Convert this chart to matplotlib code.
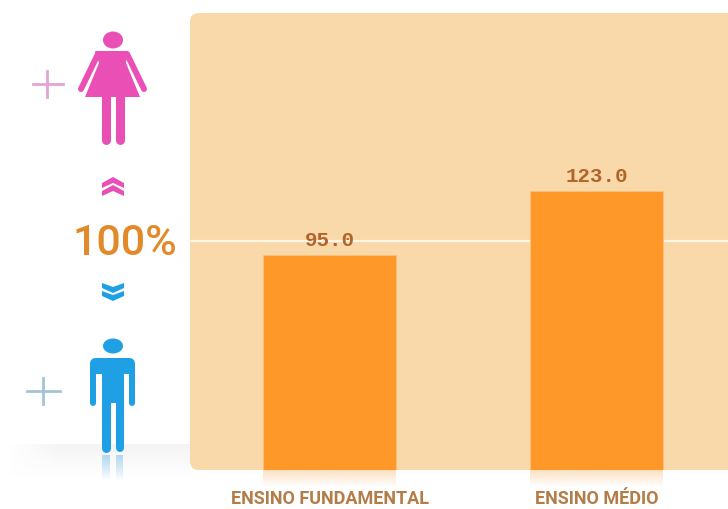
import numpy as np
import matplotlib
matplotlib.use("Agg")
import matplotlib.pyplot as plt
from matplotlib.colors import LinearSegmentedColormap
from matplotlib.patches import Ellipse, FancyBboxPatch, Polygon

# ------------------------------------------------------------
# Data
# ------------------------------------------------------------
categories = ["ENSINO FUNDAMENTAL", "ENSINO MÉDIO"]
values = [95.0, 123.0]
value_labels = ["95.0", "123.0"]
reference_line = 101.2  # where the white line sits
reference_label = "100%"

PANEL = "#f9d8a9"
BAR = "#fd9829"
PINK = "#e94fb4"
BLUE = "#1f9fe4"
W, H = 728, 510

fig = plt.figure(figsize=(W / 100, H / 100), dpi=100, facecolor="white")

# pixel layer for panel and pictograms
bg = fig.add_axes([0, 0, 1, 1], zorder=0)
bg.axis("off")


def fade(axis, color, extent, start=1.0, horizontal=False):
    cmap = LinearSegmentedColormap.from_list("f", [color, color])
    grad = np.linspace(start, 0, 64)
    grad = grad[None, :] if horizontal else grad[:, None]
    rgba = cmap(np.zeros_like(grad))
    rgba[..., 3] = grad
    axis.imshow(rgba, extent=extent, aspect="auto", interpolation="bilinear", zorder=1, clip_on=False)


def limb(x0, y0, x1, y1, width, color):
    bg.plot([x0, x1], [y0, y1], color=color, lw=width * 0.72, solid_capstyle="round", zorder=3)


# grey floor band on the left
fade(bg, "#eeeeee", (10, 190, 478, 445), start=0.65)
fade(bg, "#ffffff", (10, 60, 445, 478), start=1.0, horizontal=True)

bg.add_patch(FancyBboxPatch((198, 22), 550, 441, boxstyle="round,pad=8,rounding_size=9",
                            fc=PANEL, ec="none", zorder=2))

# woman
bg.add_patch(Ellipse((113, 41), 20, 17, fc=PINK, ec="none", zorder=3))
bg.add_patch(Polygon([(95, 52), (128, 52), (126, 64), (140, 98), (85, 98), (99, 64)],
                     fc=PINK, ec="none", zorder=3))
limb(98, 55, 81, 90, 6, PINK)
limb(127, 55, 144, 90, 6, PINK)
limb(106, 97, 106, 141, 9, PINK)
limb(119.5, 97, 119.5, 141, 9, PINK)

# man
bg.add_patch(Ellipse((113, 347), 20, 15, fc=BLUE, ec="none", zorder=3))
bg.add_patch(FancyBboxPatch((90, 359), 45, 16, boxstyle="round,pad=0,rounding_size=6",
                            fc=BLUE, ec="none", zorder=3))
limb(93, 368, 93, 404, 6, BLUE)
limb(132, 368, 132, 404, 6, BLUE)
bg.add_patch(Polygon([(102, 366), (124, 366), (124, 404), (102, 404)], fc=BLUE, ec="none", zorder=3))
limb(106, 400, 106, 449, 9, BLUE)
limb(119.5, 400, 119.5, 449, 8, BLUE)
fade(bg, "#a9d6f0", (102, 110, 482, 456), start=0.9)
fade(bg, "#a9d6f0", (116, 123, 482, 456), start=0.9)

# chevrons
for dy in (0, 8):
    bg.add_patch(Polygon([(102, 184 + dy), (113, 178 + dy), (124, 184 + dy), (124, 189 + dy),
                          (113, 184 + dy), (102, 189 + dy)], fc=PINK, ec="none", zorder=3))
    bg.add_patch(Polygon([(102, 284 + dy), (113, 288 + dy), (124, 284 + dy), (124, 289 + dy),
                          (113, 294 + dy), (102, 289 + dy)], fc=BLUE, ec="none", zorder=3))

# plus signs
bg.plot([33, 63], [85, 85], color="#e2a5cf", lw=2, zorder=3)
bg.plot([47, 47], [72, 98], color="#e2a5cf", lw=2, zorder=3)
bg.plot([27, 60], [392, 392], color="#a3c3d8", lw=2, zorder=3)
bg.plot([43, 43], [379, 405], color="#a3c3d8", lw=2, zorder=3)

bg.text(124.5, 244, reference_label, color="#e28a2b", fontsize=31, family="Roboto", fontweight=500,
        ha="center", va="center", zorder=3)
bg.set_xlim(0, W)
bg.set_ylim(H, 0)

# chart layer: plot area matches the panel
ax = fig.add_axes([190 / W, 1 - 470.5 / H, 538 / W, 456.5 / H], zorder=1)
ax.patch.set_alpha(0)
x = np.arange(len(categories))
bars = ax.bar(x, values, width=0.498, color=BAR, edgecolor="#fbc27c", linewidth=0.6, zorder=3)
ax.axhline(reference_line, color="#fff6e8", lw=1.6, zorder=2)

for xi, val, txt in zip(x, values, value_labels):
    ax.annotate(txt, (xi, val), xytext=(0, 7), textcoords="offset points", ha="center", va="baseline",
                color="#b2642a", fontsize=15, family=["Liberation Mono", "DejaVu Sans Mono"],
                fontweight="bold", zorder=4)

# bar reflections under the floor
for b in bars:
    fade(ax, "#fbdcb8", (b.get_x(), b.get_x() + b.get_width(), -6, 1.5), start=0.9)

ax.set_xlim(-0.5225, 1.4925)
ax.set_ylim(1.5, 200.3)
ax.set_yticks([])
ax.set_xticks(x)
ax.set_xticklabels(categories, color="#b47c47", fontsize=13, fontweight="bold", family="Roboto")
ax.tick_params(axis="x", length=0, pad=14)
for s in ax.spines.values():
    s.set_visible(False)

fig.savefig("out.png", dpi=100)
